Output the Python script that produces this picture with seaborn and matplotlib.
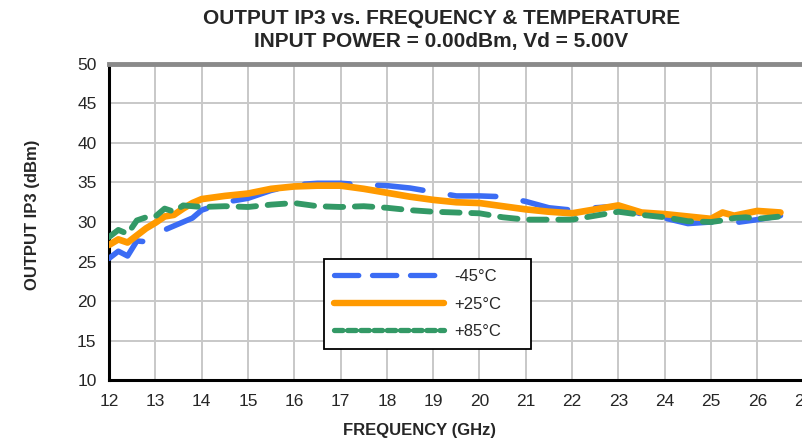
import matplotlib
matplotlib.use("Agg")
import matplotlib.pyplot as plt
from matplotlib.lines import Line2D
from matplotlib.ticker import MultipleLocator
import seaborn as sns
import pandas as pd

freq = [12.0, 12.2, 12.4, 12.6, 12.8, 13.0, 13.2, 13.4, 13.6, 13.8, 14.0, 14.5,
        15.0, 15.5, 16.0, 16.5, 17.0, 17.5, 18.0, 18.5, 19.0, 19.5, 20.0, 20.5,
        21.0, 21.5, 22.0, 22.5, 23.0, 23.5, 24.0, 24.5, 25.0, 25.25, 25.5, 25.75,
        26.0, 26.5]
ip3_m45 = [25.4, 26.3, 25.7, 27.6, 27.5, 28.5, 29.0, 29.5, 30.0, 30.5, 31.5, 32.5,
           33.0, 34.0, 34.7, 34.9, 34.9, 34.7, 34.6, 34.3, 33.8, 33.3, 33.3, 33.2,
           32.6, 31.8, 31.5, 31.8, 32.0, 31.0, 30.5, 29.8, 30.0, 29.6, 29.9, 30.1,
           30.3, 30.8]
ip3_p25 = [27.1, 27.8, 27.4, 28.3, 29.2, 29.9, 30.7, 30.9, 31.7, 32.4, 32.9, 33.3,
           33.6, 34.2, 34.5, 34.6, 34.6, 34.2, 33.7, 33.2, 32.8, 32.5, 32.4, 32.0,
           31.6, 31.3, 31.1, 31.6, 32.1, 31.2, 31.0, 30.7, 30.4, 31.2, 30.8, 31.1,
           31.4, 31.2]
ip3_p85 = [28.1, 29.0, 28.5, 30.2, 30.6, 30.7, 31.7, 31.3, 32.1, 32.0, 31.9, 32.0,
           31.9, 32.2, 32.4, 32.0, 31.9, 32.0, 31.8, 31.5, 31.3, 31.2, 31.1, 30.6,
           30.3, 30.3, 30.3, 30.8, 31.3, 30.9, 30.6, 30.1, 30.0, 30.2, 30.5, 30.6,
           30.4, 30.7]
labels = ["-45°C", "+25°C", "+85°C"]
x_ticks = list(range(12, 28))
y_ticks = list(range(10, 51, 5))

sns.set_style("white")
plt.rcParams['font.family'] = ['Liberation Sans', 'DejaVu Sans']

df = pd.DataFrame({
    "freq": freq * 3,
    "ip3": ip3_m45 + ip3_p25 + ip3_p85,
    "temp": [labels[0]] * len(freq) + [labels[1]] * len(freq) + [labels[2]] * len(freq),
})

fig = plt.figure(figsize=(8.02, 4.38), dpi=100)
ax = fig.add_axes([0.136, 0.1324, 0.866, 0.7215])

colors = {"-45°C": "#3b6cf4", "+25°C": "#ff9a00", "+85°C": "#339966"}
styles = {
    "-45°C": dict(lw=4.0, dashes=(8.2, 5.0)),
    "+25°C": dict(lw=4.8, dashes=None),
    "+85°C": dict(lw=4.2, dashes=(3.0, 2.0)),
}
for lab in labels:
    sub = df[df["temp"] == lab]
    st = styles[lab]
    sns.lineplot(data=sub, x="freq", y="ip3", ax=ax, color=colors[lab],
                 linewidth=st["lw"], legend=False, zorder=3)
    ln = ax.lines[-1]
    ln.set_solid_capstyle("round")
    ln.set_dash_capstyle("round")
    ln.set_solid_joinstyle("round")
    if st["dashes"] is not None:
        ln.set_dashes(st["dashes"])

ax.set_xlim(12, 27)
ax.set_ylim(10, 50)
ax.set_xticks(x_ticks)
ax.set_yticks(y_ticks)
ax.xaxis.set_minor_locator(MultipleLocator(0.5))
ax.yaxis.set_minor_locator(MultipleLocator(2.5))
ax.grid(True, which="major", color="#c8c8c8", linewidth=1.4, zorder=0)
ax.set_axisbelow(True)
ax.tick_params(axis="both", which="both", direction="out", length=5, width=1.3,
               color="black", labelsize=12.5, pad=4)
ax.tick_params(axis="x", which="major", pad=5)
ax.set_xlabel("")
ax.set_ylabel("")

for s in ["left", "bottom"]:
    ax.spines[s].set_color("black")
    ax.spines[s].set_linewidth(2.2)
ax.spines["top"].set_color("#8a8a8a")
ax.spines["top"].set_linewidth(3.5)
ax.spines["right"].set_color("#8a8a8a")
ax.spines["right"].set_linewidth(3.5)

handles = [
    Line2D([], [], color=colors["-45°C"], lw=3.8, dashes=(4.6, 2.6), dash_capstyle="round"),
    Line2D([], [], color=colors["+25°C"], lw=4.6, solid_capstyle="round"),
    Line2D([], [], color=colors["+85°C"], lw=3.8, dashes=(1.6, 0.9), dash_capstyle="round"),
]
leg = ax.legend(handles, labels, loc="lower left", bbox_to_anchor=(0.31, 0.098, 0.298, 0.294),
                mode="expand", frameon=True, fancybox=False, edgecolor="black",
                framealpha=1, fontsize=12, handlelength=6.6, handletextpad=0.6,
                labelspacing=0.75, borderpad=0.6, borderaxespad=0)
leg.get_frame().set_linewidth(1.3)
leg.set_zorder(5)

fig.text(0.55, 1 - 18 / 438, "OUTPUT IP3 vs. FREQUENCY & TEMPERATURE", ha="center",
         va="center", fontsize=15, fontweight="bold")
fig.text(0.55, 1 - 42 / 438, "INPUT POWER = 0.00dBm, Vd = 5.00V", ha="center",
         va="center", fontsize=15, fontweight="bold")
fig.text(419 / 802, 1 - 430 / 438, "FREQUENCY (GHz)", ha="center", va="center",
         fontsize=12, fontweight="bold")
fig.text(33 / 802, 1 - 215 / 438, "OUTPUT IP3 (dBm)", ha="center", va="center",
         rotation=90, fontsize=12, fontweight="bold")

fig.savefig("out.png", dpi=100)
